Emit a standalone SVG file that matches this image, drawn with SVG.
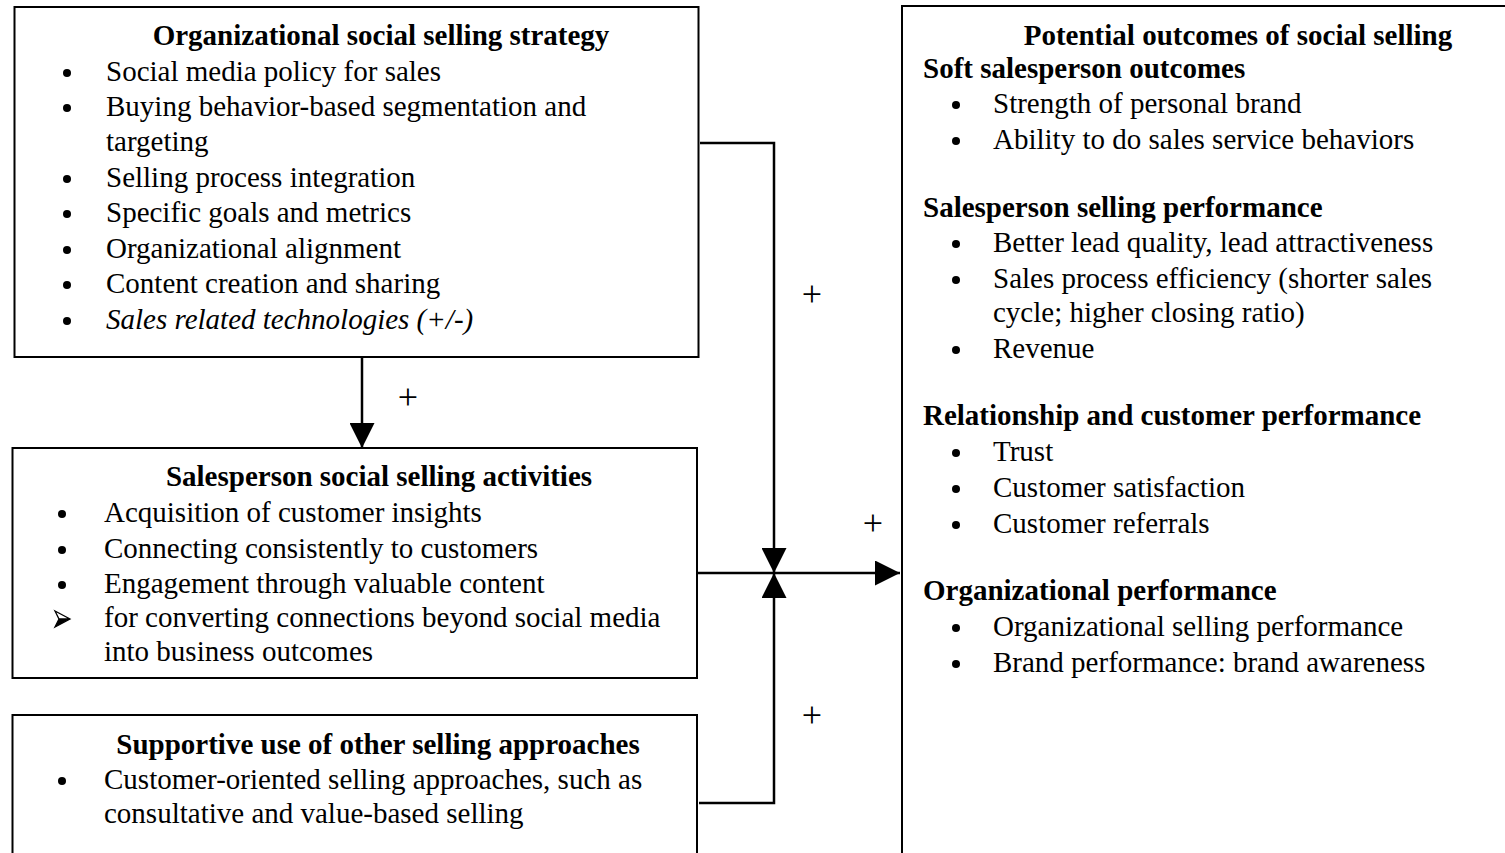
<svg xmlns="http://www.w3.org/2000/svg" width="1505" height="853" viewBox="0 0 1505 853">
<defs>
<style>
.box{fill:#fff;stroke:#000;stroke-width:2}
text{font-family:"Liberation Serif","Times New Roman",serif;font-size:29px;fill:#000}
.h{font-weight:bold}
.c{text-anchor:middle}
.i{font-style:italic}
.b{fill:#000}
.con{fill:none;stroke:#000;stroke-width:2.5}
text.p{font-size:36px;fill:#000}
</style>
<marker id="arr" viewBox="0 0 25 25" refX="25" refY="12.5" markerWidth="25" markerHeight="25" markerUnits="userSpaceOnUse" orient="auto">
<path d="M0,0 L25,12.5 L0,25 Z" fill="#000"/>
</marker>
</defs>
<rect width="1505" height="853" fill="#fff"/>

<g id="strategy">
<rect class="box" x="14.5" y="7" width="684" height="350"/>
<text class="h c" x="381" y="45">Organizational social selling strategy</text>
<circle class="b" cx="67" cy="73" r="4"/><text x="106" y="81">Social media policy for sales</text>
<circle class="b" cx="67" cy="108" r="4"/><text x="106" y="116">Buying behavior-based segmentation and</text>
<text x="106" y="151">targeting</text>
<circle class="b" cx="67" cy="179" r="4"/><text x="106" y="187">Selling process integration</text>
<circle class="b" cx="67" cy="214" r="4"/><text x="106" y="222">Specific goals and metrics</text>
<circle class="b" cx="67" cy="250" r="4"/><text x="106" y="258">Organizational alignment</text>
<circle class="b" cx="67" cy="285" r="4"/><text x="106" y="293">Content creation and sharing</text>
<circle class="b" cx="67" cy="321" r="4"/><text class="i" x="106" y="329">Sales related technologies (+/-)</text>
</g>

<g id="activities">
<rect class="box" x="12.5" y="448" width="684.5" height="230"/>
<text class="h c" x="379" y="486">Salesperson social selling activities</text>
<circle class="b" cx="62" cy="514" r="4"/><text x="104" y="522">Acquisition of customer insights</text>
<circle class="b" cx="62" cy="550" r="4"/><text x="104" y="558">Connecting consistently to customers</text>
<circle class="b" cx="62" cy="585" r="4"/><text x="104" y="593">Engagement through valuable content</text>
<path d="M55,611 L70,619 L55,627 L59,619 Z M55,611 L59,619 L70,619" fill="none" stroke="#000" stroke-width="1.3" stroke-linejoin="miter"/>
<path d="M59,619 L70,619 L55,627 Z" fill="#000"/>
<text x="104" y="627">for converting connections beyond social media</text>
<text x="104" y="661">into business outcomes</text>
</g>

<g id="supportive">
<rect class="box" x="12.5" y="715" width="684.5" height="160"/>
<text class="h c" x="378" y="754">Supportive use of other selling approaches</text>
<circle class="b" cx="62" cy="781" r="4"/><text x="104" y="789">Customer-oriented selling approaches, such as</text>
<text x="104" y="823">consultative and value-based selling</text>
</g>

<g id="outcomes">
<rect class="box" x="902" y="6" width="640" height="880"/>
<text class="h c" x="1238" y="45">Potential outcomes of social selling</text>
<text class="h" x="923" y="78">Soft salesperson outcomes</text>
<circle class="b" cx="956" cy="105" r="4"/><text x="993" y="113">Strength of personal brand</text>
<circle class="b" cx="956" cy="141" r="4"/><text x="993" y="149">Ability to do sales service behaviors</text>
<text class="h" x="923" y="217">Salesperson selling performance</text>
<circle class="b" cx="956" cy="244" r="4"/><text x="993" y="252">Better lead quality, lead attractiveness</text>
<circle class="b" cx="956" cy="280" r="4"/><text x="993" y="288">Sales process efficiency (shorter sales</text>
<text x="993" y="322">cycle; higher closing ratio)</text>
<circle class="b" cx="956" cy="350" r="4"/><text x="993" y="358">Revenue</text>
<text class="h" x="923" y="425">Relationship and customer performance</text>
<circle class="b" cx="956" cy="453" r="4"/><text x="993" y="461">Trust</text>
<circle class="b" cx="956" cy="489" r="4"/><text x="993" y="497">Customer satisfaction</text>
<circle class="b" cx="956" cy="525" r="4"/><text x="993" y="533">Customer referrals</text>
<text class="h" x="923" y="600">Organizational performance</text>
<circle class="b" cx="956" cy="628" r="4"/><text x="993" y="636">Organizational selling performance</text>
<circle class="b" cx="956" cy="664" r="4"/><text x="993" y="672">Brand performance: brand awareness</text>
</g>

<g id="connectors">
<path class="con" d="M362,357 V448" marker-end="url(#arr)"/>
<path class="con" d="M700,143 H774 V573" marker-end="url(#arr)"/>
<path class="con" d="M697,573 H900" marker-end="url(#arr)"/>
<path class="con" d="M699,803 H774 V573" marker-end="url(#arr)"/>
<text class="c p" x="408" y="409">+</text>
<text class="c p" x="812" y="306">+</text>
<text class="c p" x="873" y="535">+</text>
<text class="c p" x="812" y="727">+</text>
</g>
</svg>
